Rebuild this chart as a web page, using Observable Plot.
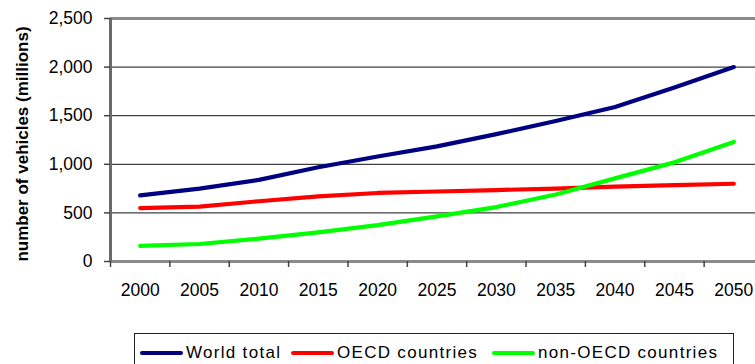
<!DOCTYPE html>
<html>
<head>
<meta charset="utf-8">
<script src="https://cdn.jsdelivr.net/npm/d3@7"></script>
<script src="https://cdn.jsdelivr.net/npm/@observablehq/plot@0.6"></script>
<style>
  body { margin: 0; background: #fff; font-family: "Liberation Sans", Arial, sans-serif; }
  #wrap { position: relative; width: 755px; height: 364px; overflow: hidden; }
  #legend { position: absolute; left: 134px; top: 333px; width: 600px; height: 40px; border: 1px solid #222; box-sizing: border-box; background: #fff; }
  .item { position: absolute; top: 9px; display: flex; align-items: center; font-size: 17px; letter-spacing: 1.3px; color: #000; }
  .sw { width: 43px; height: 4px; border-radius: 2px; margin-right: 3px; }
</style>
</head>
<body>
<div id="wrap"></div>
<script>
const years = [2000, 2005, 2010, 2015, 2020, 2025, 2030, 2035, 2040, 2045, 2050];
const world = [680, 750, 840, 970, 1080, 1185, 1310, 1445, 1590, 1790, 2000];
const oecd = [550, 565, 620, 670, 705, 720, 735, 750, 770, 785, 800];
const nonOecd = [160, 180, 235, 300, 375, 465, 560, 690, 855, 1020, 1230];
const seriesNames = ["World total", "OECD countries", "non-OECD countries"];
const seriesColors = ["#000080", "#ff0000", "#00ff00"];
const yTicks = [0, 500, 1000, 1500, 2000, 2500];
const yTitle = "number of vehicles (millions)";

const seriesValues = [world, oecd, nonOecd];
const data = seriesNames.flatMap((name, i) =>
  years.map((year, j) => ({ series: name, year, value: seriesValues[i][j] })));
const edges = years.map(y => y - 2.5).concat([years[years.length - 1] + 2.5]);

const font = '"Liberation Sans", Arial, sans-serif';

const chart = Plot.plot({
  width: 755,
  height: 300,
  marginLeft: 110,
  marginRight: 0,
  marginTop: 18,
  marginBottom: 39,
  style: { fontFamily: font, background: "#fff", overflow: "visible" },
  x: { type: "linear", domain: [edges[0], edges[edges.length - 1]], range: [110, 763] },
  y: { domain: [0, 2500], range: [261, 18] },
  color: { domain: seriesNames, range: seriesColors },
  marks: [
    Plot.ruleY(yTicks.slice(1, -1), { stroke: "#111", strokeWidth: 1 }),
    Plot.ruleY([2500], { stroke: "#8a8a8a", strokeWidth: 3 }),
    Plot.ruleY([0], { stroke: "#8a8a8a", strokeWidth: 3 }),
    Plot.ruleX([edges[0]], { stroke: "#6a6a6a", strokeWidth: 3 }),
    Plot.axisY({ ticks: yTicks, tickSize: 6, tickPadding: 12, tickFormat: d3.format(","), fontSize: 17.5, stroke: "#444", strokeWidth: 1.5, label: null, style: { letterSpacing: "1.2px" } }),
    Plot.axisX({ ticks: edges, tickSize: 6, tickFormat: () => "", stroke: "#444", strokeWidth: 1.5, label: null }),
    Plot.axisX({ ticks: years, tickSize: 0, tickPadding: 22, tickFormat: d => String(d), fontSize: 17.5, label: null, style: { letterSpacing: "1.1px" } }),
    Plot.line(data, { x: "year", y: "value", z: "series", stroke: "series", strokeWidth: 4.2, strokeLinecap: "round", strokeLinejoin: "round" }),
    Plot.text([yTitle], { frameAnchor: "left", textAnchor: "middle", rotate: -90, dx: -88, dy: 4, fontSize: 17, fontWeight: "bold", fill: "#000", style: { letterSpacing: "1.2px" } })
  ]
});
chart.style.position = "absolute";
chart.style.left = "0px";
chart.style.top = "0px";
document.getElementById("wrap").appendChild(chart);

const legend = document.createElement("div");
legend.id = "legend";
const offsets = [5, 156, 357];
seriesNames.forEach((name, i) => {
  const item = document.createElement("div");
  item.className = "item";
  item.style.left = offsets[i] + "px";
  const sw = document.createElement("div");
  sw.className = "sw";
  sw.style.background = seriesColors[i];
  const label = document.createElement("span");
  label.textContent = name;
  item.appendChild(sw);
  item.appendChild(label);
  legend.appendChild(item);
});
document.getElementById("wrap").appendChild(legend);
</script>
</body>
</html>
